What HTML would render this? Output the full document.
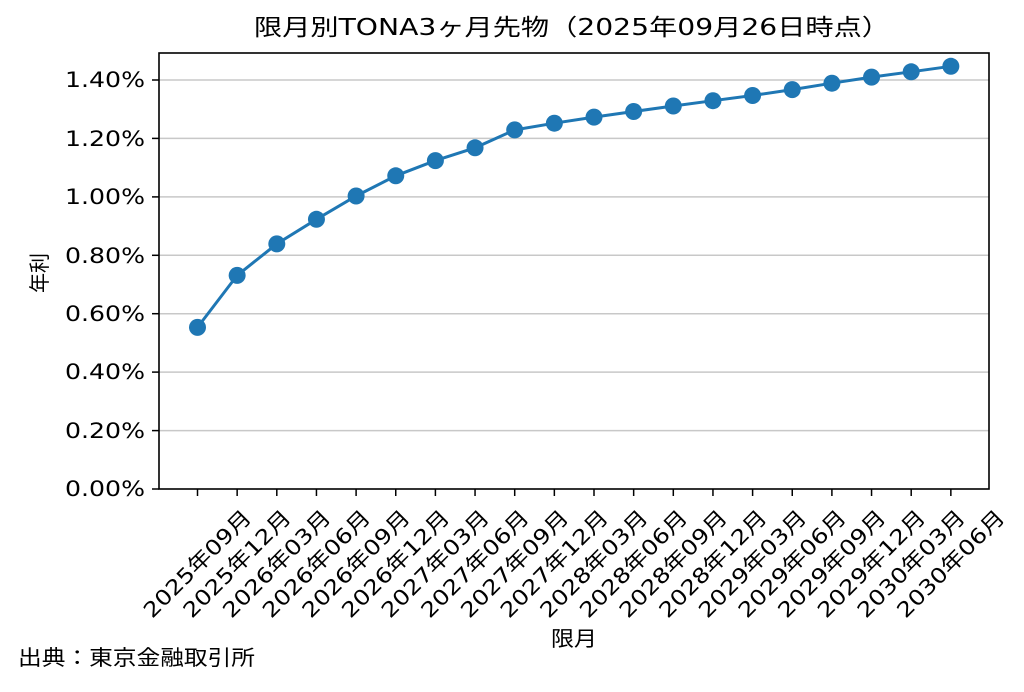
<!DOCTYPE html>
<html><head><meta charset="utf-8"><style>body{margin:0;background:#fff}</style></head><body>
<svg width="1024" height="687" xmlns="http://www.w3.org/2000/svg" font-family="DejaVu Sans, Noto Sans CJK JP, sans-serif" fill="#000">
<text x="572" y="35" font-size="23" text-anchor="middle" textLength="636" lengthAdjust="spacingAndGlyphs">限月別TONA3ヶ月先物（2025年09月26日時点）</text>
<g stroke="#c8c8c8" stroke-width="1.5">
<line x1="159" x2="989" y1="430.6" y2="430.6"/><line x1="159" x2="989" y1="372.1" y2="372.1"/><line x1="159" x2="989" y1="313.7" y2="313.7"/><line x1="159" x2="989" y1="255.3" y2="255.3"/><line x1="159" x2="989" y1="196.9" y2="196.9"/><line x1="159" x2="989" y1="138.4" y2="138.4"/><line x1="159" x2="989" y1="80" y2="80"/>
</g>
<rect x="159" y="53" width="830" height="436" fill="none" stroke="#000" stroke-width="1.6"/>
<g stroke="#000" stroke-width="1.5">
<line x1="152" x2="159" y1="489" y2="489"/><line x1="152" x2="159" y1="430.6" y2="430.6"/><line x1="152" x2="159" y1="372.1" y2="372.1"/><line x1="152" x2="159" y1="313.7" y2="313.7"/><line x1="152" x2="159" y1="255.3" y2="255.3"/><line x1="152" x2="159" y1="196.9" y2="196.9"/><line x1="152" x2="159" y1="138.4" y2="138.4"/><line x1="152" x2="159" y1="80" y2="80"/>
<line x1="197.5" x2="197.5" y1="489" y2="496"/><line x1="237.15" x2="237.15" y1="489" y2="496"/><line x1="276.8" x2="276.8" y1="489" y2="496"/><line x1="316.45" x2="316.45" y1="489" y2="496"/><line x1="356.1" x2="356.1" y1="489" y2="496"/><line x1="395.75" x2="395.75" y1="489" y2="496"/><line x1="435.4" x2="435.4" y1="489" y2="496"/><line x1="475.05" x2="475.05" y1="489" y2="496"/><line x1="514.7" x2="514.7" y1="489" y2="496"/><line x1="554.35" x2="554.35" y1="489" y2="496"/><line x1="594" x2="594" y1="489" y2="496"/><line x1="633.65" x2="633.65" y1="489" y2="496"/><line x1="673.3" x2="673.3" y1="489" y2="496"/><line x1="712.95" x2="712.95" y1="489" y2="496"/><line x1="752.6" x2="752.6" y1="489" y2="496"/><line x1="792.25" x2="792.25" y1="489" y2="496"/><line x1="831.9" x2="831.9" y1="489" y2="496"/><line x1="871.55" x2="871.55" y1="489" y2="496"/><line x1="911.2" x2="911.2" y1="489" y2="496"/><line x1="950.85" x2="950.85" y1="489" y2="496"/>
</g>
<g font-size="21" text-anchor="end">
<text x="145" y="496" textLength="80" lengthAdjust="spacingAndGlyphs">0.00%</text><text x="145" y="438" textLength="80" lengthAdjust="spacingAndGlyphs">0.20%</text><text x="145" y="379" textLength="80" lengthAdjust="spacingAndGlyphs">0.40%</text><text x="145" y="321" textLength="80" lengthAdjust="spacingAndGlyphs">0.60%</text><text x="145" y="263" textLength="80" lengthAdjust="spacingAndGlyphs">0.80%</text><text x="145" y="204" textLength="80" lengthAdjust="spacingAndGlyphs">1.00%</text><text x="145" y="146" textLength="80" lengthAdjust="spacingAndGlyphs">1.20%</text><text x="145" y="87" textLength="80" lengthAdjust="spacingAndGlyphs">1.40%</text>
</g>
<text transform="translate(47,273) rotate(-90)" font-size="21" text-anchor="middle" textLength="40" lengthAdjust="spacingAndGlyphs">年利</text>
<text x="574" y="646" font-size="21" text-anchor="middle" textLength="46" lengthAdjust="spacingAndGlyphs">限月</text>
<text x="18" y="665" font-size="21" textLength="237" lengthAdjust="spacingAndGlyphs">出典：東京金融取引所</text>
<g font-size="21" text-anchor="middle" dominant-baseline="central">
<text transform="translate(197.5,564) rotate(-45)" textLength="142" lengthAdjust="spacingAndGlyphs">2025年09月</text>
<text transform="translate(237.15,564) rotate(-45)" textLength="142" lengthAdjust="spacingAndGlyphs">2025年12月</text>
<text transform="translate(276.8,564) rotate(-45)" textLength="142" lengthAdjust="spacingAndGlyphs">2026年03月</text>
<text transform="translate(316.45,564) rotate(-45)" textLength="142" lengthAdjust="spacingAndGlyphs">2026年06月</text>
<text transform="translate(356.1,564) rotate(-45)" textLength="142" lengthAdjust="spacingAndGlyphs">2026年09月</text>
<text transform="translate(395.75,564) rotate(-45)" textLength="142" lengthAdjust="spacingAndGlyphs">2026年12月</text>
<text transform="translate(435.4,564) rotate(-45)" textLength="142" lengthAdjust="spacingAndGlyphs">2027年03月</text>
<text transform="translate(475.05,564) rotate(-45)" textLength="142" lengthAdjust="spacingAndGlyphs">2027年06月</text>
<text transform="translate(514.7,564) rotate(-45)" textLength="142" lengthAdjust="spacingAndGlyphs">2027年09月</text>
<text transform="translate(554.35,564) rotate(-45)" textLength="142" lengthAdjust="spacingAndGlyphs">2027年12月</text>
<text transform="translate(594,564) rotate(-45)" textLength="142" lengthAdjust="spacingAndGlyphs">2028年03月</text>
<text transform="translate(633.65,564) rotate(-45)" textLength="142" lengthAdjust="spacingAndGlyphs">2028年06月</text>
<text transform="translate(673.3,564) rotate(-45)" textLength="142" lengthAdjust="spacingAndGlyphs">2028年09月</text>
<text transform="translate(712.95,564) rotate(-45)" textLength="142" lengthAdjust="spacingAndGlyphs">2028年12月</text>
<text transform="translate(752.6,564) rotate(-45)" textLength="142" lengthAdjust="spacingAndGlyphs">2029年03月</text>
<text transform="translate(792.25,564) rotate(-45)" textLength="142" lengthAdjust="spacingAndGlyphs">2029年06月</text>
<text transform="translate(831.9,564) rotate(-45)" textLength="142" lengthAdjust="spacingAndGlyphs">2029年09月</text>
<text transform="translate(871.55,564) rotate(-45)" textLength="142" lengthAdjust="spacingAndGlyphs">2029年12月</text>
<text transform="translate(911.2,564) rotate(-45)" textLength="142" lengthAdjust="spacingAndGlyphs">2030年03月</text>
<text transform="translate(950.85,564) rotate(-45)" textLength="142" lengthAdjust="spacingAndGlyphs">2030年06月</text>
</g>
<polyline fill="none" stroke="#1f77b4" stroke-width="3" points="197.5,327.4 237.15,275.4 276.8,243.9 316.45,219.3 356.1,196.0 395.75,175.8 435.4,160.6 475.05,147.8 514.7,129.9 554.35,123.2 594,117.1 633.65,111.5 673.3,106.0 712.95,100.7 752.6,95.5 792.25,89.6 831.9,83.2 871.55,77.1 911.2,71.8 950.85,66.3"/>
<g fill="#1f77b4">
<circle cx="197.5" cy="327.4" r="8.5"/><circle cx="237.15" cy="275.4" r="8.5"/><circle cx="276.8" cy="243.9" r="8.5"/><circle cx="316.45" cy="219.3" r="8.5"/><circle cx="356.1" cy="196.0" r="8.5"/><circle cx="395.75" cy="175.8" r="8.5"/><circle cx="435.4" cy="160.6" r="8.5"/><circle cx="475.05" cy="147.8" r="8.5"/><circle cx="514.7" cy="129.9" r="8.5"/><circle cx="554.35" cy="123.2" r="8.5"/><circle cx="594" cy="117.1" r="8.5"/><circle cx="633.65" cy="111.5" r="8.5"/><circle cx="673.3" cy="106.0" r="8.5"/><circle cx="712.95" cy="100.7" r="8.5"/><circle cx="752.6" cy="95.5" r="8.5"/><circle cx="792.25" cy="89.6" r="8.5"/><circle cx="831.9" cy="83.2" r="8.5"/><circle cx="871.55" cy="77.1" r="8.5"/><circle cx="911.2" cy="71.8" r="8.5"/><circle cx="950.85" cy="66.3" r="8.5"/>
</g>
</svg>
</body></html>
